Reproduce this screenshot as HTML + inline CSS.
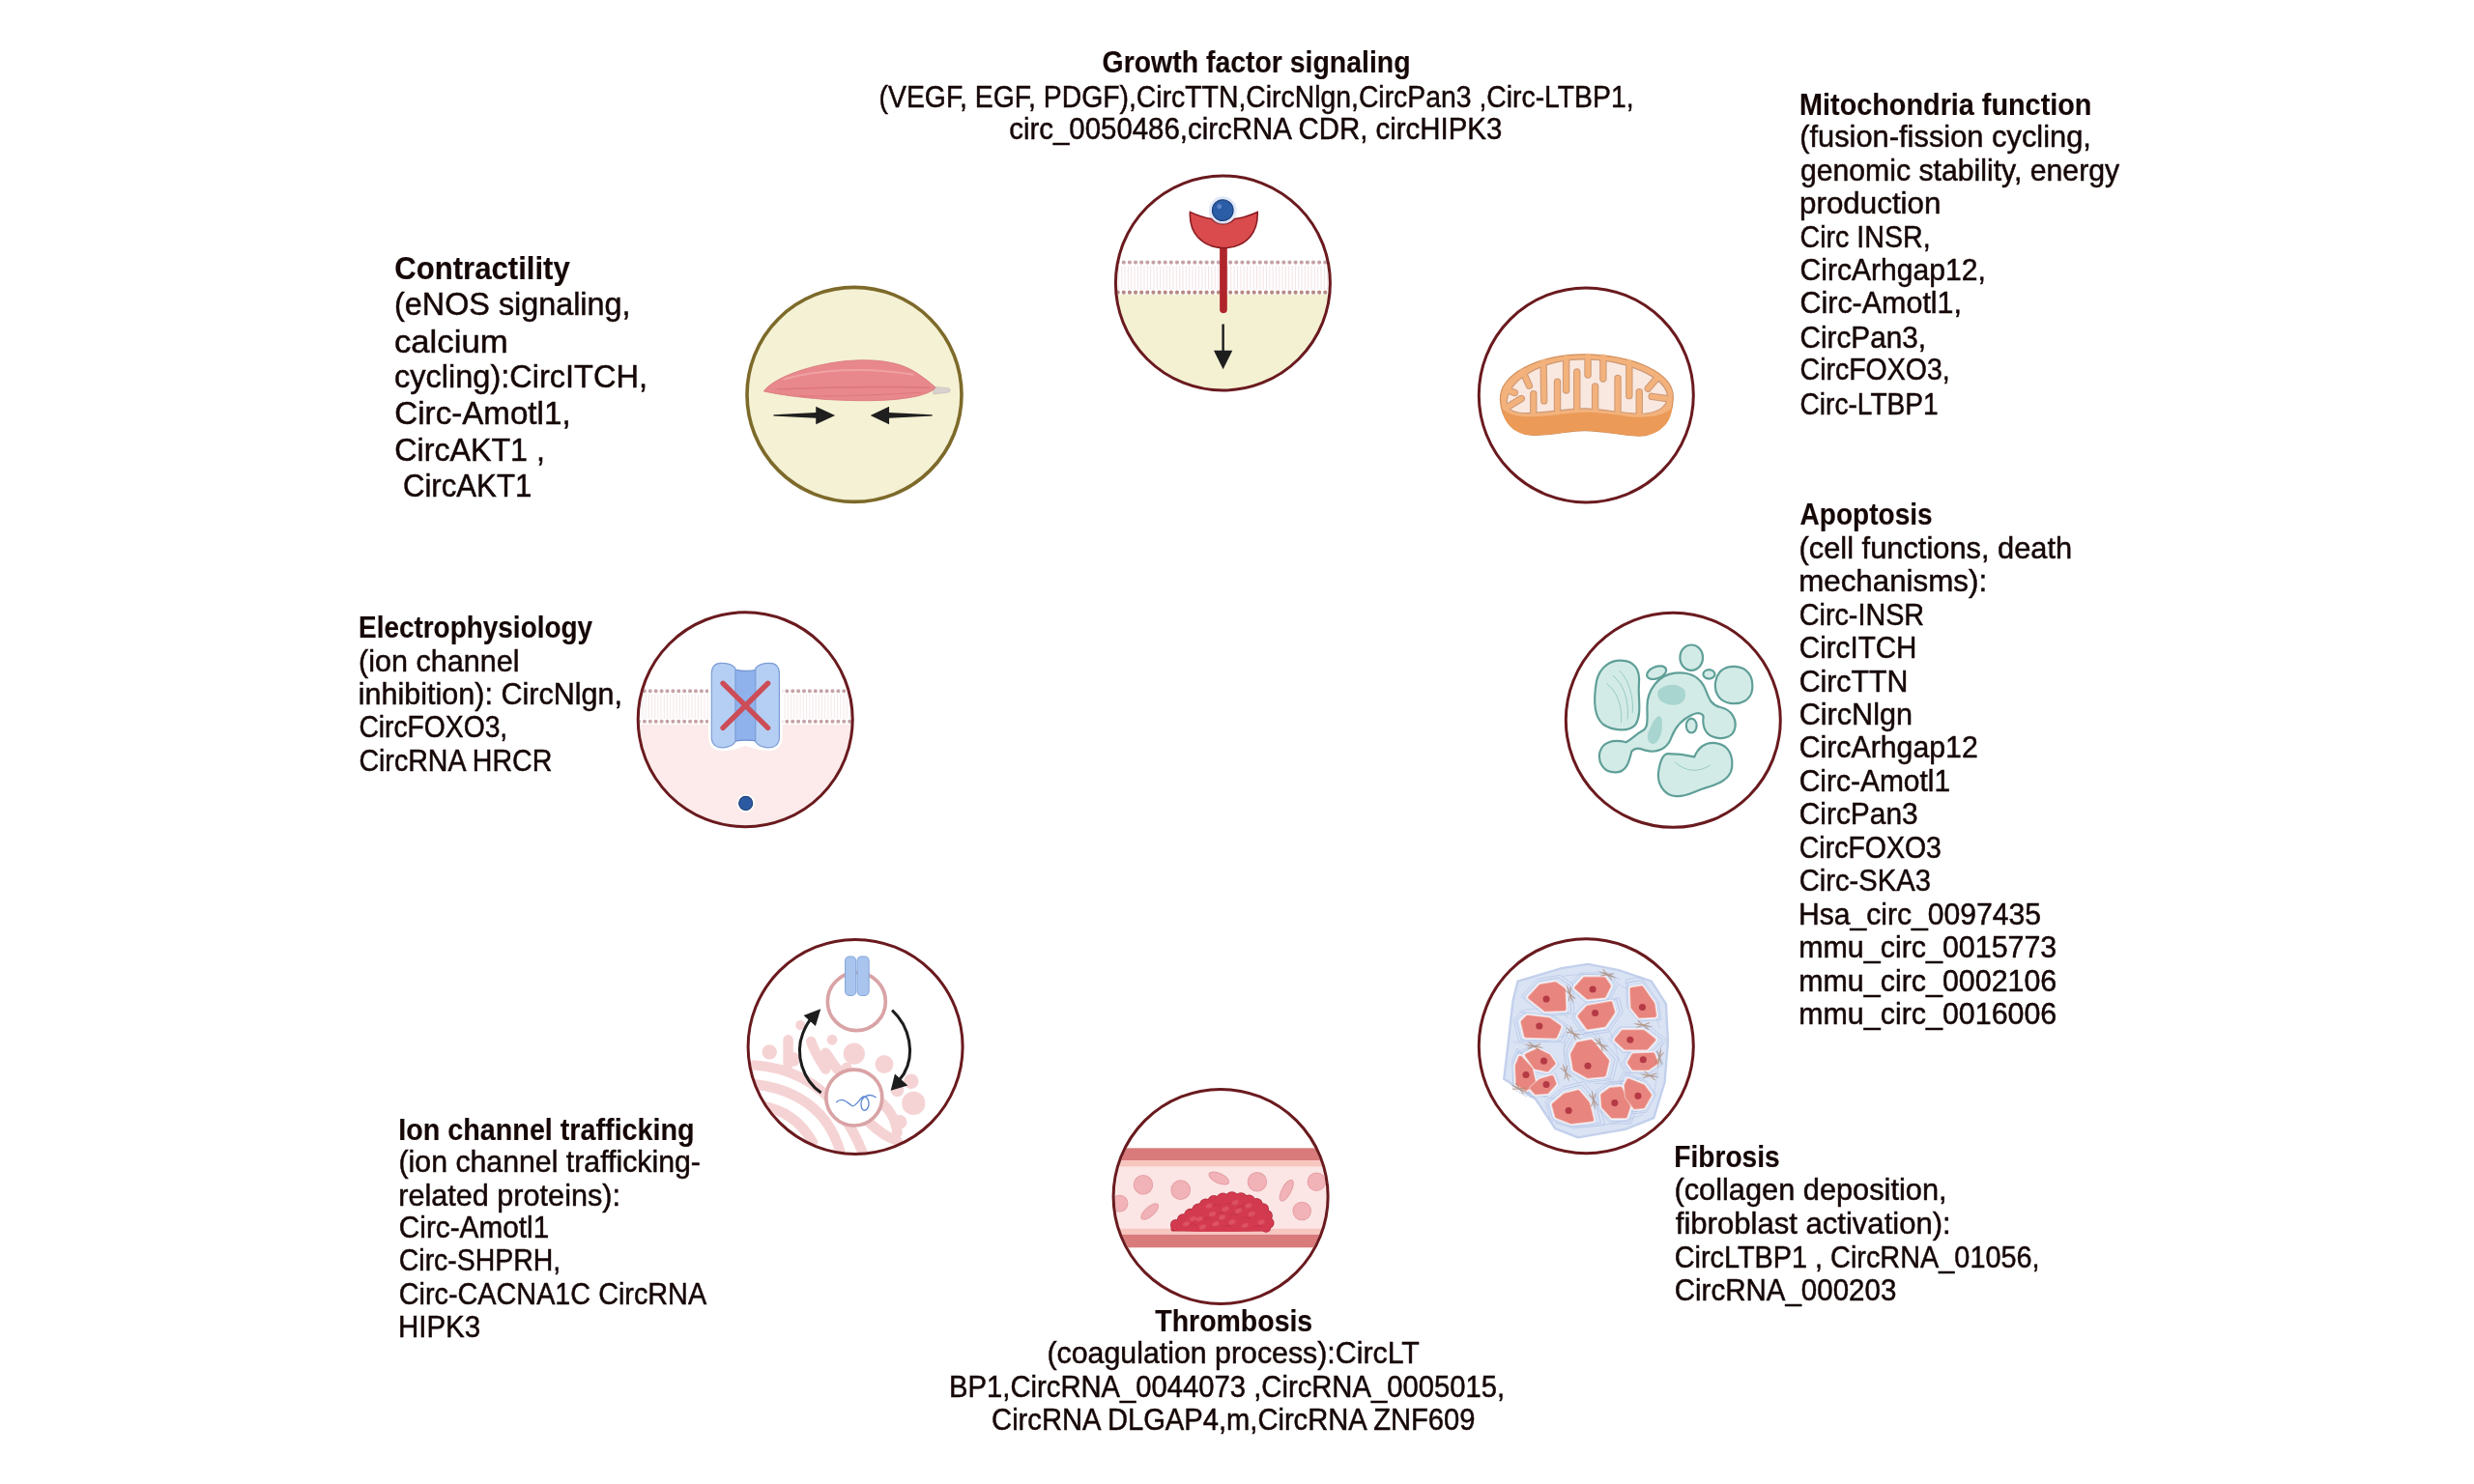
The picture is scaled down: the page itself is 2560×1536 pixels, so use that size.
<!DOCTYPE html>
<html><head><meta charset="utf-8"><style>
html,body{margin:0;padding:0;background:#fff;width:2560px;height:1536px;overflow:hidden}
svg{display:block}
text{font-family:"Liberation Sans",sans-serif;fill:#160707;stroke:#160707;stroke-width:0.5px}
.tx{will-change:transform}
text[font-weight=bold]{stroke-width:0.15px}
</style></head><body>
<svg width="2560" height="1536" viewBox="0 0 2560 1536">
<defs><clipPath id="cg"><circle cx="715.7446153846159" cy="702.0461538461539" r="626.1338461538462"/></clipPath><clipPath id="ce"><circle cx="749.1232000000003" cy="740.2192000000003" r="651.7728"/></clipPath><clipPath id="ci"><circle cx="742.5936000000002" cy="732.5024000000005" r="652.3664000000001"/></clipPath><clipPath id="ct"><circle cx="730.7215999999995" cy="762.1824000000006" r="650.5856"/></clipPath></defs>
<rect width="2560" height="1536" fill="#ffffff"/>
<circle cx="1265.4" cy="293.0" r="111.2" fill="#ffffff"/><g transform="translate(1140,170) scale(0.175202)" clip-path="url(#cg)">
<rect x="0" y="770" width="1484" height="700" fill="#f4f1d3"/>
<g stroke="#f1dfe2" stroke-width="5"><line x1="80" y1="600" x2="80" y2="740"/><line x1="99" y1="600" x2="99" y2="740"/><line x1="118" y1="600" x2="118" y2="740"/><line x1="137" y1="600" x2="137" y2="740"/><line x1="156" y1="600" x2="156" y2="740"/><line x1="175" y1="600" x2="175" y2="740"/><line x1="194" y1="600" x2="194" y2="740"/><line x1="213" y1="600" x2="213" y2="740"/><line x1="232" y1="600" x2="232" y2="740"/><line x1="251" y1="600" x2="251" y2="740"/><line x1="270" y1="600" x2="270" y2="740"/><line x1="289" y1="600" x2="289" y2="740"/><line x1="308" y1="600" x2="308" y2="740"/><line x1="327" y1="600" x2="327" y2="740"/><line x1="346" y1="600" x2="346" y2="740"/><line x1="365" y1="600" x2="365" y2="740"/><line x1="384" y1="600" x2="384" y2="740"/><line x1="403" y1="600" x2="403" y2="740"/><line x1="422" y1="600" x2="422" y2="740"/><line x1="441" y1="600" x2="441" y2="740"/><line x1="460" y1="600" x2="460" y2="740"/><line x1="479" y1="600" x2="479" y2="740"/><line x1="498" y1="600" x2="498" y2="740"/><line x1="517" y1="600" x2="517" y2="740"/><line x1="536" y1="600" x2="536" y2="740"/><line x1="555" y1="600" x2="555" y2="740"/><line x1="574" y1="600" x2="574" y2="740"/><line x1="593" y1="600" x2="593" y2="740"/><line x1="612" y1="600" x2="612" y2="740"/><line x1="631" y1="600" x2="631" y2="740"/><line x1="650" y1="600" x2="650" y2="740"/><line x1="669" y1="600" x2="669" y2="740"/><line x1="688" y1="600" x2="688" y2="740"/><line x1="707" y1="600" x2="707" y2="740"/><line x1="726" y1="600" x2="726" y2="740"/><line x1="745" y1="600" x2="745" y2="740"/><line x1="764" y1="600" x2="764" y2="740"/><line x1="783" y1="600" x2="783" y2="740"/><line x1="802" y1="600" x2="802" y2="740"/><line x1="821" y1="600" x2="821" y2="740"/><line x1="840" y1="600" x2="840" y2="740"/><line x1="859" y1="600" x2="859" y2="740"/><line x1="878" y1="600" x2="878" y2="740"/><line x1="897" y1="600" x2="897" y2="740"/><line x1="916" y1="600" x2="916" y2="740"/><line x1="935" y1="600" x2="935" y2="740"/><line x1="954" y1="600" x2="954" y2="740"/><line x1="973" y1="600" x2="973" y2="740"/><line x1="992" y1="600" x2="992" y2="740"/><line x1="1011" y1="600" x2="1011" y2="740"/><line x1="1030" y1="600" x2="1030" y2="740"/><line x1="1049" y1="600" x2="1049" y2="740"/><line x1="1068" y1="600" x2="1068" y2="740"/><line x1="1087" y1="600" x2="1087" y2="740"/><line x1="1106" y1="600" x2="1106" y2="740"/><line x1="1125" y1="600" x2="1125" y2="740"/><line x1="1144" y1="600" x2="1144" y2="740"/><line x1="1163" y1="600" x2="1163" y2="740"/><line x1="1182" y1="600" x2="1182" y2="740"/><line x1="1201" y1="600" x2="1201" y2="740"/><line x1="1220" y1="600" x2="1220" y2="740"/><line x1="1239" y1="600" x2="1239" y2="740"/><line x1="1258" y1="600" x2="1258" y2="740"/><line x1="1277" y1="600" x2="1277" y2="740"/><line x1="1296" y1="600" x2="1296" y2="740"/><line x1="1315" y1="600" x2="1315" y2="740"/><line x1="1334" y1="600" x2="1334" y2="740"/><line x1="1353" y1="600" x2="1353" y2="740"/><line x1="1372" y1="600" x2="1372" y2="740"/><line x1="1391" y1="600" x2="1391" y2="740"/></g>
<line x1="60" y1="580" x2="1420" y2="580" stroke="#c5a2a8" stroke-width="24" stroke-linecap="round" stroke-dasharray="0 35"/>
<line x1="60" y1="757" x2="1420" y2="757" stroke="#b78a84" stroke-width="24" stroke-linecap="round" stroke-dasharray="0 35"/>
<rect x="697" y="470" width="44" height="410" rx="22" fill="#b0252c"/>
<path d="M522,282 C560,300 610,318 650,322 C680,360 750,365 785,322 C830,318 880,300 920,282 C925,400 860,490 722,495 C585,490 515,400 522,282 Z" fill="#d94b4d" stroke="#8a1b21" stroke-width="9"/>
<circle cx="715" cy="272" r="82" fill="#c9d6f2" opacity="0.55"/>
<circle cx="715" cy="272" r="62" fill="#2b5da6" stroke="#1c3f7c" stroke-width="6"/>
<circle cx="695" cy="250" r="14" fill="#6f95d6" opacity="0.7"/>
<line x1="717" y1="945" x2="717" y2="1120" stroke="#1e1e1e" stroke-width="14"/>
<path d="M662,1100 L772,1100 L717,1212 Z" fill="#1e1e1e"/>
</g><circle cx="1265.4" cy="293.0" r="111.0" fill="none" stroke="#6a1a1e" stroke-width="3.0"/><circle cx="884.0" cy="408.4" r="111.0" fill="#f4f1d4" stroke="#7d6a2a" stroke-width="3.6"/><g transform="translate(760,285) scale(0.168464)">
<path d="M1222,684 L1318,694 Q1332,706 1318,718 L1222,730 Z" fill="#d8d2cf" stroke="#c4bcb8" stroke-width="4"/>
<path d="M180,712 C230,640 420,560 650,530 C830,510 1000,520 1120,600 C1180,640 1215,670 1235,690 C1200,735 1050,770 800,770 C560,770 330,745 180,712 Z" fill="#e8888c" stroke="#d9777c" stroke-width="5"/>
<path d="M300,640 C500,580 800,560 1100,610" stroke="#f0a7aa" stroke-width="12" fill="none" opacity="0.8"/>
<path d="M260,700 C500,690 900,680 1200,690" stroke="#d66a70" stroke-width="8" fill="none" opacity="0.6"/>
<path d="M400,740 C600,745 900,735 1150,720" stroke="#d66a70" stroke-width="6" fill="none" opacity="0.5"/>
<path d="M240,856 L500,843 L500,806 L618,860 L500,916 L500,877 L240,864 Z" fill="#1f1f1f"/>
<path d="M1215,856 L950,843 L950,806 L835,860 L950,916 L950,877 L1215,864 Z" fill="#1f1f1f"/>
</g><circle cx="1641.3" cy="408.9" r="111.0" fill="none" stroke="#6a1a1e" stroke-width="3.0"/><g transform="translate(1515,285) scale(0.168464)">
<path d="M222,766 C215,610 450,486 739,486 C1040,488 1290,600 1284,752 C1280,900 1180,990 1067,986 C950,982 850,953 739,953 C640,953 540,985 412,981 C300,975 228,880 222,766 Z" fill="#f3b27c" stroke="#d08f5c" stroke-width="7"/>
<path d="M236,820 C300,880 420,872 560,858 C650,848 700,842 739,842 C800,842 880,850 1000,866 C1120,880 1230,866 1278,812 C1270,925 1180,990 1067,986 C950,982 850,953 739,953 C640,953 540,985 412,981 C300,975 240,900 236,820 Z" fill="#eb9a57"/>
<path d="M262,780 C270,640 480,516 739,516 C1000,516 1245,630 1249,743 C1250,800 1200,840 1114,850 C1000,855 850,818 739,818 C630,818 480,850 365,846 C300,842 262,820 262,780 Z" fill="#f9e8df" stroke="#cf9a78" stroke-width="7"/>
<clipPath id="mclip"><path d="M262,780 C270,640 480,516 739,516 C1000,516 1245,630 1249,743 C1250,800 1200,840 1114,850 C1000,855 850,818 739,818 C630,818 480,850 365,846 C300,842 262,820 262,780 Z"/></clipPath>
<g clip-path="url(#mclip)" fill="none" stroke="#cf9a78" stroke-width="44" stroke-linecap="round"><path d="M487,530 L491,771"/><path d="M627,505 L627,706"/><path d="M760,495 L760,612"/><path d="M854,500 L854,635"/><path d="M1014,530 L1014,740"/><path d="M426,850 L426,728"/><path d="M573,842 L573,654"/><path d="M693,826 L693,593"/><path d="M805,826 L805,682"/><path d="M944,836 L944,632"/><path d="M1076,850 L1076,716"/><path d="M360,590 L400,678"/><path d="M255,700 L311,721"/><path d="M262,812 L352,757"/><path d="M1190,625 L1129,696"/><path d="M1262,760 L1153,744"/></g>
<g fill="none" stroke="#f3b27c" stroke-width="31" stroke-linecap="round"><path d="M487,530 L491,771"/><path d="M627,505 L627,706"/><path d="M760,495 L760,612"/><path d="M854,500 L854,635"/><path d="M1014,530 L1014,740"/><path d="M426,850 L426,728"/><path d="M573,842 L573,654"/><path d="M693,826 L693,593"/><path d="M805,826 L805,682"/><path d="M944,836 L944,632"/><path d="M1076,850 L1076,716"/><path d="M360,590 L400,678"/><path d="M255,700 L311,721"/><path d="M262,812 L352,757"/><path d="M1190,625 L1129,696"/><path d="M1262,760 L1153,744"/></g>
</g><circle cx="771.2" cy="744.7" r="111.3" fill="#ffffff"/><g transform="translate(645,620) scale(0.168464)" clip-path="url(#ce)">
<rect x="0" y="770" width="1484" height="700" fill="#fcebea"/>
<g stroke="#f2e2e3" stroke-width="5"><line x1="80" y1="585" x2="80" y2="735"/><line x1="99" y1="585" x2="99" y2="735"/><line x1="118" y1="585" x2="118" y2="735"/><line x1="137" y1="585" x2="137" y2="735"/><line x1="156" y1="585" x2="156" y2="735"/><line x1="175" y1="585" x2="175" y2="735"/><line x1="194" y1="585" x2="194" y2="735"/><line x1="213" y1="585" x2="213" y2="735"/><line x1="232" y1="585" x2="232" y2="735"/><line x1="251" y1="585" x2="251" y2="735"/><line x1="270" y1="585" x2="270" y2="735"/><line x1="289" y1="585" x2="289" y2="735"/><line x1="308" y1="585" x2="308" y2="735"/><line x1="327" y1="585" x2="327" y2="735"/><line x1="346" y1="585" x2="346" y2="735"/><line x1="365" y1="585" x2="365" y2="735"/><line x1="384" y1="585" x2="384" y2="735"/><line x1="403" y1="585" x2="403" y2="735"/><line x1="422" y1="585" x2="422" y2="735"/><line x1="441" y1="585" x2="441" y2="735"/><line x1="460" y1="585" x2="460" y2="735"/><line x1="479" y1="585" x2="479" y2="735"/><line x1="498" y1="585" x2="498" y2="735"/><line x1="517" y1="585" x2="517" y2="735"/><line x1="536" y1="585" x2="536" y2="735"/><line x1="555" y1="585" x2="555" y2="735"/><line x1="574" y1="585" x2="574" y2="735"/><line x1="593" y1="585" x2="593" y2="735"/><line x1="612" y1="585" x2="612" y2="735"/><line x1="631" y1="585" x2="631" y2="735"/><line x1="650" y1="585" x2="650" y2="735"/><line x1="669" y1="585" x2="669" y2="735"/><line x1="688" y1="585" x2="688" y2="735"/><line x1="707" y1="585" x2="707" y2="735"/><line x1="726" y1="585" x2="726" y2="735"/><line x1="745" y1="585" x2="745" y2="735"/><line x1="764" y1="585" x2="764" y2="735"/><line x1="783" y1="585" x2="783" y2="735"/><line x1="802" y1="585" x2="802" y2="735"/><line x1="821" y1="585" x2="821" y2="735"/><line x1="840" y1="585" x2="840" y2="735"/><line x1="859" y1="585" x2="859" y2="735"/><line x1="878" y1="585" x2="878" y2="735"/><line x1="897" y1="585" x2="897" y2="735"/><line x1="916" y1="585" x2="916" y2="735"/><line x1="935" y1="585" x2="935" y2="735"/><line x1="954" y1="585" x2="954" y2="735"/><line x1="973" y1="585" x2="973" y2="735"/><line x1="992" y1="585" x2="992" y2="735"/><line x1="1011" y1="585" x2="1011" y2="735"/><line x1="1030" y1="585" x2="1030" y2="735"/><line x1="1049" y1="585" x2="1049" y2="735"/><line x1="1068" y1="585" x2="1068" y2="735"/><line x1="1087" y1="585" x2="1087" y2="735"/><line x1="1106" y1="585" x2="1106" y2="735"/><line x1="1125" y1="585" x2="1125" y2="735"/><line x1="1144" y1="585" x2="1144" y2="735"/><line x1="1163" y1="585" x2="1163" y2="735"/><line x1="1182" y1="585" x2="1182" y2="735"/><line x1="1201" y1="585" x2="1201" y2="735"/><line x1="1220" y1="585" x2="1220" y2="735"/><line x1="1239" y1="585" x2="1239" y2="735"/><line x1="1258" y1="585" x2="1258" y2="735"/><line x1="1277" y1="585" x2="1277" y2="735"/><line x1="1296" y1="585" x2="1296" y2="735"/><line x1="1315" y1="585" x2="1315" y2="735"/><line x1="1334" y1="585" x2="1334" y2="735"/><line x1="1353" y1="585" x2="1353" y2="735"/><line x1="1372" y1="585" x2="1372" y2="735"/><line x1="1391" y1="585" x2="1391" y2="735"/><line x1="1410" y1="585" x2="1410" y2="735"/></g>
<line x1="60" y1="565" x2="1430" y2="565" stroke="#c6a3a6" stroke-width="24" stroke-linecap="round" stroke-dasharray="0 35"/>
<line x1="60" y1="752" x2="1430" y2="752" stroke="#c6a3a6" stroke-width="24" stroke-linecap="round" stroke-dasharray="0 35"/>
<path d="M600,392 C555,392 540,420 540,462 L540,848 C540,895 568,918 615,915 C700,912 750,880 750,880 C750,880 800,912 885,915 C932,918 960,895 960,848 L960,462 C960,420 945,392 900,392 C840,392 790,425 750,425 C710,425 660,392 600,392 Z" fill="#ffffff" stroke="#ffffff" stroke-width="36"/>
<path d="M680,432 Q750,452 830,432 L830,875 Q750,860 680,875 Z" fill="#8fb1ec" stroke="#6f90cf" stroke-width="7"/>
<path d="M600,394 C556,394 542,420 542,462 L542,848 C542,893 568,916 615,913 C650,910 675,895 688,878 L688,425 C675,408 645,394 600,394 Z" fill="#b5cff4" stroke="#7c9dd6" stroke-width="7"/>
<path d="M900,394 C944,394 958,420 958,462 L958,848 C958,893 932,916 885,913 C850,910 825,895 812,878 L812,425 C825,408 855,394 900,394 Z" fill="#b5cff4" stroke="#7c9dd6" stroke-width="7"/>
<g stroke="#cc4d57" stroke-width="32" stroke-linecap="round"><line x1="612" y1="518" x2="888" y2="792"/><line x1="888" y1="518" x2="612" y2="792"/></g>
<circle cx="752" cy="1255" r="56" fill="#ffffff"/>
<circle cx="752" cy="1255" r="42" fill="#2b5aa3" stroke="#1b3b72" stroke-width="6"/>
</g><circle cx="771.2" cy="744.7" r="111.0" fill="none" stroke="#6a1a1e" stroke-width="3.0"/><circle cx="1731.3" cy="745.3" r="111.0" fill="none" stroke="#6a1a1e" stroke-width="3.0"/><g transform="translate(1605,620) scale(0.168464)">
<g fill="#d3ebe7" stroke="#5f9f98" stroke-width="13">
<path d="M430,378 C510,380 548,430 540,520 C532,600 560,700 520,770 C480,820 380,810 320,770 C260,720 262,600 280,500 C300,420 360,376 430,378 Z"/>
<ellipse cx="648" cy="452" rx="62" ry="36" transform="rotate(-22 648 452)"/>
<ellipse cx="862" cy="360" rx="70" ry="78"/>
<ellipse cx="970" cy="462" rx="36" ry="28"/>
<path d="M1130,415 C1210,420 1245,480 1235,560 C1225,620 1170,650 1100,640 C1030,630 1000,570 1010,510 C1020,450 1060,412 1130,415 Z"/>
<path d="M760,455 C850,445 920,480 950,560 C970,610 980,650 1040,665 C1110,680 1140,740 1130,790 C1120,850 1050,870 990,845 C940,825 930,770 935,730 C940,700 900,695 870,710 C800,740 760,790 735,860 C710,920 650,950 580,930 C540,915 520,910 495,935 C480,990 470,1060 400,1065 C320,1070 285,1000 300,940 C315,880 380,860 460,880 C500,860 520,830 560,810 C600,790 590,740 590,660 C590,560 660,465 760,455 Z"/>
<ellipse cx="862" cy="778" rx="32" ry="44"/>
<path d="M720,950 C800,950 840,960 880,970 C910,900 960,880 1010,885 C1090,895 1120,960 1110,1040 C1100,1110 1020,1140 950,1160 C880,1180 840,1215 770,1212 C690,1208 650,1130 660,1060 C670,990 690,950 720,950 Z"/>
</g>
<g fill="#a8d5cf" stroke="none">
<path d="M660,560 C700,520 780,510 820,560 C840,620 800,660 730,650 C670,640 640,600 660,560 Z"/>
<path d="M610,790 C640,720 670,700 680,740 C690,800 670,880 630,890 C590,890 580,840 610,790 Z"/>
</g>
<g fill="none" stroke="#8dc3bc" stroke-width="5">
<path d="M340,520 C400,560 440,650 430,760"/>
<path d="M380,470 C440,520 480,610 470,740"/>
<path d="M420,440 C470,490 510,590 500,700"/>
<path d="M760,1000 C820,1060 900,1070 980,1020"/>
</g>
</g><circle cx="885.1" cy="1083.4" r="111.4" fill="#ffffff"/><g transform="translate(760,960) scale(0.168464)" clip-path="url(#ci)">
<g fill="none" stroke="#f5d3d4" stroke-width="62" stroke-linecap="round">
<path d="M120,845 C330,860 520,950 640,1120 C700,1200 760,1300 800,1420"/>
<path d="M130,965 C320,985 470,1070 560,1190 C610,1260 640,1330 660,1420"/>
<path d="M160,1095 C320,1120 420,1210 480,1320"/>
<path d="M230,1235 C300,1265 350,1320 380,1390"/>
<path d="M330,690 L330,840"/>
<path d="M470,700 C490,760 520,810 560,870"/>
<path d="M560,770 C590,810 610,850 650,890"/>
<path d="M880,1060 C940,1100 990,1170 1000,1260"/>
<path d="M820,1190 C880,1250 940,1290 1000,1310"/>
</g>
<g fill="#f5d3d4">
<circle cx="215" cy="765" r="46"/><circle cx="405" cy="600" r="30"/><circle cx="600" cy="690" r="32"/>
<circle cx="735" cy="775" r="66"/><circle cx="920" cy="840" r="56"/><circle cx="1085" cy="945" r="46"/>
<circle cx="1100" cy="1080" r="72"/><circle cx="1015" cy="1195" r="44"/><circle cx="690" cy="860" r="32"/>
<circle cx="360" cy="810" r="44"/><circle cx="1000" cy="1000" r="40"/>
</g>
<circle cx="750" cy="455" r="178" fill="#ffffff" stroke="#d9a3a6" stroke-width="22"/>
<circle cx="735" cy="1045" r="172" fill="#ffffff" stroke="#d9a3a6" stroke-width="22"/>
<rect x="680" y="178" width="66" height="240" rx="26" fill="#a9c5ee" stroke="#86a6da" stroke-width="6"/>
<rect x="754" y="178" width="72" height="240" rx="26" fill="#a9c5ee" stroke="#86a6da" stroke-width="6"/>
<path d="M625,1075 C660,1040 690,1070 720,1095 C740,1110 770,1050 790,1040 C820,1030 840,1090 810,1120 C780,1140 760,1070 800,1040 C830,1020 850,1030 870,1045" fill="none" stroke="#5d88d2" stroke-width="8"/>
<g fill="none" stroke="#1d1d1d" stroke-width="18" stroke-linecap="butt">
<path d="M532,1015 C420,940 370,780 420,650 C440,600 460,570 480,550"/>
<path d="M968,508 C1080,610 1110,780 1040,900 C1020,930 1000,950 990,960"/>
</g>
<path d="M425,540 L530,500 L498,605 Z" fill="#1d1d1d"/>
<path d="M1065,970 L960,1002 L985,900 Z" fill="#1d1d1d"/>
</g><circle cx="885.1" cy="1083.4" r="111.0" fill="none" stroke="#6a1a1e" stroke-width="3.0"/><circle cx="1641.3" cy="1082.7" r="111.0" fill="none" stroke="#6a1a1e" stroke-width="3.0"/><g transform="translate(1515,960) scale(0.168464)"><path d="M330,330 L600,250 L760,225 L950,262 L1150,330 L1240,470 L1252,700 L1232,950 L1165,1170 L990,1240 L700,1290 L560,1235 L440,1055 L245,930 L272,700 L300,450 Z" fill="#dae3f4" stroke="#c3d0ec" stroke-width="14" stroke-linejoin="round"/>
<g fill="none" stroke="#b9c8e6" stroke-width="5" opacity="0.8">
<path d="M340,520 C400,480 600,500 640,560"/><path d="M600,300 C700,280 900,290 960,320"/><path d="M950,350 C1050,400 1180,500 1200,620"/>
<path d="M300,700 C380,730 560,700 640,650"/><path d="M620,700 C600,800 620,900 700,950"/><path d="M880,620 C950,700 930,850 1000,900"/>
<path d="M300,900 C380,1000 470,1050 560,1050"/><path d="M800,960 C900,960 1100,930 1200,900"/><path d="M560,1200 C700,1250 900,1220 1100,1150"/>
<path d="M1220,700 C1180,800 1200,950 1150,1050"/>
</g>

<path d="M350,424 L451,316 L590,293 L668,347 L676,533 L497,541 Z" fill="none" stroke="#b3c4e6" stroke-width="5" stroke-linejoin="round" opacity="0.8"/><path d="M367,426 L457,330 L581,309 L650,357 L657,523 L498,530 Z" fill="none" stroke="#a9bde3" stroke-width="5" stroke-linejoin="round" opacity="0.8"/><path d="M383,428 L462,342 L572,324 L633,367 L639,513 L499,519 Z" fill="none" stroke="#c2cfeb" stroke-width="4" stroke-linejoin="round" opacity="0.8"/><path d="M635,364 L712,279 L898,279 L945,349 L898,442 L744,458 Z" fill="none" stroke="#b3c4e6" stroke-width="5" stroke-linejoin="round" opacity="0.8"/><path d="M652,366 L721,290 L887,290 L928,352 L887,435 L749,449 Z" fill="none" stroke="#a9bde3" stroke-width="5" stroke-linejoin="round" opacity="0.8"/><path d="M668,368 L729,301 L875,301 L912,356 L875,429 L753,441 Z" fill="none" stroke="#c2cfeb" stroke-width="4" stroke-linejoin="round" opacity="0.8"/><path d="M994,320 L1087,304 L1196,459 L1211,568 L1072,575 L1002,490 Z" fill="none" stroke="#b3c4e6" stroke-width="5" stroke-linejoin="round" opacity="0.8"/><path d="M1005,338 L1088,324 L1185,462 L1198,559 L1074,566 L1012,490 Z" fill="none" stroke="#a9bde3" stroke-width="5" stroke-linejoin="round" opacity="0.8"/><path d="M1016,356 L1089,344 L1174,466 L1186,551 L1077,557 L1022,490 Z" fill="none" stroke="#c2cfeb" stroke-width="4" stroke-linejoin="round" opacity="0.8"/><path d="M658,556 L735,471 L952,432 L976,517 L890,641 L735,664 Z" fill="none" stroke="#b3c4e6" stroke-width="5" stroke-linejoin="round" opacity="0.8"/><path d="M674,553 L743,477 L936,442 L957,518 L881,628 L743,649 Z" fill="none" stroke="#a9bde3" stroke-width="5" stroke-linejoin="round" opacity="0.8"/><path d="M689,549 L750,482 L921,452 L939,519 L872,616 L750,635 Z" fill="none" stroke="#c2cfeb" stroke-width="4" stroke-linejoin="round" opacity="0.8"/><path d="M304,566 L350,520 L552,543 L653,613 L614,706 L335,698 Z" fill="none" stroke="#b3c4e6" stroke-width="5" stroke-linejoin="round" opacity="0.8"/><path d="M321,570 L363,529 L542,550 L632,612 L597,695 L349,688 Z" fill="none" stroke="#a9bde3" stroke-width="5" stroke-linejoin="round" opacity="0.8"/><path d="M338,574 L374,538 L533,556 L612,611 L582,684 L362,678 Z" fill="none" stroke="#c2cfeb" stroke-width="4" stroke-linejoin="round" opacity="0.8"/><path d="M888,690 L950,612 L1144,612 L1245,690 L1175,768 L974,768 Z" fill="none" stroke="#b3c4e6" stroke-width="5" stroke-linejoin="round" opacity="0.8"/><path d="M903,690 L958,621 L1130,621 L1220,690 L1158,759 L979,759 Z" fill="none" stroke="#a9bde3" stroke-width="5" stroke-linejoin="round" opacity="0.8"/><path d="M916,690 L965,629 L1118,629 L1197,690 L1142,751 L983,751 Z" fill="none" stroke="#c2cfeb" stroke-width="4" stroke-linejoin="round" opacity="0.8"/><path d="M613,742 L667,641 L791,618 L946,804 L915,935 L760,951 L636,881 Z" fill="none" stroke="#b3c4e6" stroke-width="5" stroke-linejoin="round" opacity="0.8"/><path d="M629,753 L677,664 L788,643 L926,809 L898,926 L760,940 L650,878 Z" fill="none" stroke="#a9bde3" stroke-width="5" stroke-linejoin="round" opacity="0.8"/><path d="M644,765 L687,685 L784,667 L906,813 L882,917 L760,929 L662,874 Z" fill="none" stroke="#c2cfeb" stroke-width="4" stroke-linejoin="round" opacity="0.8"/><path d="M327,766 L428,719 L536,774 L583,843 L521,905 L412,882 Z" fill="none" stroke="#b3c4e6" stroke-width="5" stroke-linejoin="round" opacity="0.8"/><path d="M345,772 L435,730 L531,779 L573,841 L518,896 L421,875 Z" fill="none" stroke="#a9bde3" stroke-width="5" stroke-linejoin="round" opacity="0.8"/><path d="M362,777 L441,741 L527,783 L563,838 L514,887 L429,869 Z" fill="none" stroke="#c2cfeb" stroke-width="4" stroke-linejoin="round" opacity="0.8"/><path d="M295,820 L326,742 L426,851 L458,990 L380,1037 L302,990 Z" fill="none" stroke="#b3c4e6" stroke-width="5" stroke-linejoin="round" opacity="0.8"/><path d="M304,829 L332,760 L421,857 L449,981 L380,1022 L311,981 Z" fill="none" stroke="#a9bde3" stroke-width="5" stroke-linejoin="round" opacity="0.8"/><path d="M313,838 L337,777 L417,862 L441,972 L380,1009 L319,972 Z" fill="none" stroke="#c2cfeb" stroke-width="4" stroke-linejoin="round" opacity="0.8"/><path d="M366,996 L451,926 L559,895 L582,957 L513,1035 L404,1042 Z" fill="none" stroke="#b3c4e6" stroke-width="5" stroke-linejoin="round" opacity="0.8"/><path d="M381,993 L457,930 L553,903 L574,958 L512,1027 L415,1034 Z" fill="none" stroke="#a9bde3" stroke-width="5" stroke-linejoin="round" opacity="0.8"/><path d="M395,989 L462,934 L548,910 L566,959 L511,1020 L426,1026 Z" fill="none" stroke="#c2cfeb" stroke-width="4" stroke-linejoin="round" opacity="0.8"/><path d="M968,840 L1007,770 L1193,762 L1224,840 L1146,894 L1007,894 Z" fill="none" stroke="#b3c4e6" stroke-width="5" stroke-linejoin="round" opacity="0.8"/><path d="M983,837 L1017,775 L1183,768 L1210,837 L1141,885 L1017,885 Z" fill="none" stroke="#a9bde3" stroke-width="5" stroke-linejoin="round" opacity="0.8"/><path d="M996,834 L1027,779 L1173,773 L1198,834 L1137,877 L1027,877 Z" fill="none" stroke="#c2cfeb" stroke-width="4" stroke-linejoin="round" opacity="0.8"/><path d="M499,1071 L608,978 L732,947 L825,1055 L864,1210 L670,1234 L530,1179 Z" fill="none" stroke="#b3c4e6" stroke-width="5" stroke-linejoin="round" opacity="0.8"/><path d="M515,1077 L612,994 L722,966 L805,1063 L839,1201 L667,1222 L543,1173 Z" fill="none" stroke="#a9bde3" stroke-width="5" stroke-linejoin="round" opacity="0.8"/><path d="M530,1082 L615,1009 L713,985 L786,1070 L816,1192 L664,1210 L554,1168 Z" fill="none" stroke="#c2cfeb" stroke-width="4" stroke-linejoin="round" opacity="0.8"/><path d="M809,1004 L886,949 L979,942 L1057,1112 L1026,1205 L902,1205 L816,1112 Z" fill="none" stroke="#b3c4e6" stroke-width="5" stroke-linejoin="round" opacity="0.8"/><path d="M822,1012 L890,963 L973,957 L1042,1108 L1015,1191 L904,1191 L828,1108 Z" fill="none" stroke="#a9bde3" stroke-width="5" stroke-linejoin="round" opacity="0.8"/><path d="M834,1019 L894,977 L968,971 L1029,1105 L1004,1178 L907,1178 L840,1105 Z" fill="none" stroke="#c2cfeb" stroke-width="4" stroke-linejoin="round" opacity="0.8"/><path d="M955,934 L978,888 L1118,942 L1180,1027 L1118,1136 L1040,1144 L963,1043 Z" fill="none" stroke="#b3c4e6" stroke-width="5" stroke-linejoin="round" opacity="0.8"/><path d="M967,945 L988,904 L1112,952 L1167,1028 L1112,1125 L1043,1132 L974,1042 Z" fill="none" stroke="#a9bde3" stroke-width="5" stroke-linejoin="round" opacity="0.8"/><path d="M979,956 L997,919 L1107,962 L1156,1029 L1107,1114 L1046,1120 L985,1041 Z" fill="none" stroke="#c2cfeb" stroke-width="4" stroke-linejoin="round" opacity="0.8"/><path d="M405,430 L470,360 L560,345 L610,380 L615,500 L500,505 Z" fill="#f2f4fb" stroke="#f2f4fb" stroke-width="44" stroke-linejoin="round"/><path d="M690,370 L740,315 L860,315 L890,360 L860,420 L760,430 Z" fill="#f2f4fb" stroke="#f2f4fb" stroke-width="44" stroke-linejoin="round"/><path d="M1030,380 L1090,370 L1160,470 L1170,540 L1080,545 L1035,490 Z" fill="#f2f4fb" stroke="#f2f4fb" stroke-width="44" stroke-linejoin="round"/><path d="M710,545 L760,490 L900,465 L915,520 L860,600 L760,615 Z" fill="#f2f4fb" stroke="#f2f4fb" stroke-width="44" stroke-linejoin="round"/><path d="M360,580 L390,550 L520,565 L585,610 L560,670 L380,665 Z" fill="#f2f4fb" stroke="#f2f4fb" stroke-width="44" stroke-linejoin="round"/><path d="M935,690 L975,640 L1100,640 L1165,690 L1120,740 L990,740 Z" fill="#f2f4fb" stroke="#f2f4fb" stroke-width="44" stroke-linejoin="round"/><path d="M665,780 L700,715 L780,700 L880,820 L860,905 L760,915 L680,870 Z" fill="#f2f4fb" stroke="#f2f4fb" stroke-width="44" stroke-linejoin="round"/><path d="M385,785 L450,755 L520,790 L550,835 L510,875 L440,860 Z" fill="#f2f4fb" stroke="#f2f4fb" stroke-width="44" stroke-linejoin="round"/><path d="M325,850 L345,800 L410,870 L430,960 L380,990 L330,960 Z" fill="#f2f4fb" stroke="#f2f4fb" stroke-width="44" stroke-linejoin="round"/><path d="M415,985 L470,940 L540,920 L555,960 L510,1010 L440,1015 Z" fill="#f2f4fb" stroke="#f2f4fb" stroke-width="44" stroke-linejoin="round"/><path d="M1015,830 L1040,785 L1160,780 L1180,830 L1130,865 L1040,865 Z" fill="#f2f4fb" stroke="#f2f4fb" stroke-width="44" stroke-linejoin="round"/><path d="M550,1090 L620,1030 L700,1010 L760,1080 L785,1180 L660,1195 L570,1160 Z" fill="#f2f4fb" stroke="#f2f4fb" stroke-width="44" stroke-linejoin="round"/><path d="M850,1030 L900,995 L960,990 L1010,1100 L990,1160 L910,1160 L855,1100 Z" fill="#f2f4fb" stroke="#f2f4fb" stroke-width="44" stroke-linejoin="round"/><path d="M995,970 L1010,940 L1100,975 L1140,1030 L1100,1100 L1050,1105 L1000,1040 Z" fill="#f2f4fb" stroke="#f2f4fb" stroke-width="44" stroke-linejoin="round"/><path d="M405,430 L470,360 L560,345 L610,380 L615,500 L500,505 Z" fill="#f2c6c0" stroke="#f2c6c0" stroke-width="30" stroke-linejoin="round"/><path d="M405,430 L470,360 L560,345 L610,380 L615,500 L500,505 Z" fill="#e8857f" stroke="#e8857f" stroke-width="20" stroke-linejoin="round"/><circle cx="505" cy="440" r="21" fill="#b53a45"/><path d="M690,370 L740,315 L860,315 L890,360 L860,420 L760,430 Z" fill="#f2c6c0" stroke="#f2c6c0" stroke-width="30" stroke-linejoin="round"/><path d="M690,370 L740,315 L860,315 L890,360 L860,420 L760,430 Z" fill="#e8857f" stroke="#e8857f" stroke-width="20" stroke-linejoin="round"/><circle cx="790" cy="380" r="21" fill="#b53a45"/><path d="M1030,380 L1090,370 L1160,470 L1170,540 L1080,545 L1035,490 Z" fill="#f2c6c0" stroke="#f2c6c0" stroke-width="30" stroke-linejoin="round"/><path d="M1030,380 L1090,370 L1160,470 L1170,540 L1080,545 L1035,490 Z" fill="#e8857f" stroke="#e8857f" stroke-width="20" stroke-linejoin="round"/><circle cx="1095" cy="490" r="21" fill="#b53a45"/><path d="M710,545 L760,490 L900,465 L915,520 L860,600 L760,615 Z" fill="#f2c6c0" stroke="#f2c6c0" stroke-width="30" stroke-linejoin="round"/><path d="M710,545 L760,490 L900,465 L915,520 L860,600 L760,615 Z" fill="#e8857f" stroke="#e8857f" stroke-width="20" stroke-linejoin="round"/><circle cx="805" cy="525" r="21" fill="#b53a45"/><path d="M360,580 L390,550 L520,565 L585,610 L560,670 L380,665 Z" fill="#f2c6c0" stroke="#f2c6c0" stroke-width="30" stroke-linejoin="round"/><path d="M360,580 L390,550 L520,565 L585,610 L560,670 L380,665 Z" fill="#e8857f" stroke="#e8857f" stroke-width="20" stroke-linejoin="round"/><circle cx="462" cy="605" r="21" fill="#b53a45"/><path d="M935,690 L975,640 L1100,640 L1165,690 L1120,740 L990,740 Z" fill="#f2c6c0" stroke="#f2c6c0" stroke-width="30" stroke-linejoin="round"/><path d="M935,690 L975,640 L1100,640 L1165,690 L1120,740 L990,740 Z" fill="#e8857f" stroke="#e8857f" stroke-width="20" stroke-linejoin="round"/><circle cx="1020" cy="690" r="21" fill="#b53a45"/><path d="M665,780 L700,715 L780,700 L880,820 L860,905 L760,915 L680,870 Z" fill="#f2c6c0" stroke="#f2c6c0" stroke-width="30" stroke-linejoin="round"/><path d="M665,780 L700,715 L780,700 L880,820 L860,905 L760,915 L680,870 Z" fill="#e8857f" stroke="#e8857f" stroke-width="20" stroke-linejoin="round"/><circle cx="760" cy="850" r="21" fill="#b53a45"/><path d="M385,785 L450,755 L520,790 L550,835 L510,875 L440,860 Z" fill="#f2c6c0" stroke="#f2c6c0" stroke-width="30" stroke-linejoin="round"/><path d="M385,785 L450,755 L520,790 L550,835 L510,875 L440,860 Z" fill="#e8857f" stroke="#e8857f" stroke-width="20" stroke-linejoin="round"/><circle cx="490" cy="820" r="21" fill="#b53a45"/><path d="M325,850 L345,800 L410,870 L430,960 L380,990 L330,960 Z" fill="#f2c6c0" stroke="#f2c6c0" stroke-width="30" stroke-linejoin="round"/><path d="M325,850 L345,800 L410,870 L430,960 L380,990 L330,960 Z" fill="#e8857f" stroke="#e8857f" stroke-width="20" stroke-linejoin="round"/><circle cx="380" cy="905" r="21" fill="#b53a45"/><path d="M415,985 L470,940 L540,920 L555,960 L510,1010 L440,1015 Z" fill="#f2c6c0" stroke="#f2c6c0" stroke-width="30" stroke-linejoin="round"/><path d="M415,985 L470,940 L540,920 L555,960 L510,1010 L440,1015 Z" fill="#e8857f" stroke="#e8857f" stroke-width="20" stroke-linejoin="round"/><circle cx="505" cy="965" r="21" fill="#b53a45"/><path d="M1015,830 L1040,785 L1160,780 L1180,830 L1130,865 L1040,865 Z" fill="#f2c6c0" stroke="#f2c6c0" stroke-width="30" stroke-linejoin="round"/><path d="M1015,830 L1040,785 L1160,780 L1180,830 L1130,865 L1040,865 Z" fill="#e8857f" stroke="#e8857f" stroke-width="20" stroke-linejoin="round"/><circle cx="1100" cy="812" r="21" fill="#b53a45"/><path d="M550,1090 L620,1030 L700,1010 L760,1080 L785,1180 L660,1195 L570,1160 Z" fill="#f2c6c0" stroke="#f2c6c0" stroke-width="30" stroke-linejoin="round"/><path d="M550,1090 L620,1030 L700,1010 L760,1080 L785,1180 L660,1195 L570,1160 Z" fill="#e8857f" stroke="#e8857f" stroke-width="20" stroke-linejoin="round"/><circle cx="642" cy="1125" r="21" fill="#b53a45"/><path d="M850,1030 L900,995 L960,990 L1010,1100 L990,1160 L910,1160 L855,1100 Z" fill="#f2c6c0" stroke="#f2c6c0" stroke-width="30" stroke-linejoin="round"/><path d="M850,1030 L900,995 L960,990 L1010,1100 L990,1160 L910,1160 L855,1100 Z" fill="#e8857f" stroke="#e8857f" stroke-width="20" stroke-linejoin="round"/><circle cx="925" cy="1078" r="21" fill="#b53a45"/><path d="M995,970 L1010,940 L1100,975 L1140,1030 L1100,1100 L1050,1105 L1000,1040 Z" fill="#f2c6c0" stroke="#f2c6c0" stroke-width="30" stroke-linejoin="round"/><path d="M995,970 L1010,940 L1100,975 L1140,1030 L1100,1100 L1050,1105 L1000,1040 Z" fill="#e8857f" stroke="#e8857f" stroke-width="20" stroke-linejoin="round"/><circle cx="1068" cy="1035" r="21" fill="#b53a45"/><g transform="translate(650,410) rotate(70)" opacity="0.75"><path d="M-65,0 Q0,-11 65,0 Q0,11 -65,0 Z" fill="#a88470"/><path d="M-35,-20 L35,20 M-35,20 L35,-20" stroke="#a88470" stroke-width="6" stroke-linecap="round"/></g><g transform="translate(880,290) rotate(20)" opacity="0.75"><path d="M-65,0 Q0,-11 65,0 Q0,11 -65,0 Z" fill="#a88470"/><path d="M-35,-20 L35,20 M-35,20 L35,-20" stroke="#a88470" stroke-width="6" stroke-linecap="round"/></g><g transform="translate(670,650) rotate(40)" opacity="0.75"><path d="M-65,0 Q0,-11 65,0 Q0,11 -65,0 Z" fill="#a88470"/><path d="M-35,-20 L35,20 M-35,20 L35,-20" stroke="#a88470" stroke-width="6" stroke-linecap="round"/></g><g transform="translate(430,730) rotate(10)" opacity="0.75"><path d="M-65,0 Q0,-11 65,0 Q0,11 -65,0 Z" fill="#a88470"/><path d="M-35,-20 L35,20 M-35,20 L35,-20" stroke="#a88470" stroke-width="6" stroke-linecap="round"/></g><g transform="translate(625,890) rotate(70)" opacity="0.75"><path d="M-65,0 Q0,-11 65,0 Q0,11 -65,0 Z" fill="#a88470"/><path d="M-35,-20 L35,20 M-35,20 L35,-20" stroke="#a88470" stroke-width="6" stroke-linecap="round"/></g><g transform="translate(1100,600) rotate(10)" opacity="0.75"><path d="M-65,0 Q0,-11 65,0 Q0,11 -65,0 Z" fill="#a88470"/><path d="M-35,-20 L35,20 M-35,20 L35,-20" stroke="#a88470" stroke-width="6" stroke-linecap="round"/></g><g transform="translate(1140,910) rotate(10)" opacity="0.75"><path d="M-65,0 Q0,-11 65,0 Q0,11 -65,0 Z" fill="#a88470"/><path d="M-35,-20 L35,20 M-35,20 L35,-20" stroke="#a88470" stroke-width="6" stroke-linecap="round"/></g><g transform="translate(340,990) rotate(25)" opacity="0.75"><path d="M-65,0 Q0,-11 65,0 Q0,11 -65,0 Z" fill="#a88470"/><path d="M-35,-20 L35,20 M-35,20 L35,-20" stroke="#a88470" stroke-width="6" stroke-linecap="round"/></g><g transform="translate(795,1060) rotate(80)" opacity="0.75"><path d="M-65,0 Q0,-11 65,0 Q0,11 -65,0 Z" fill="#a88470"/><path d="M-35,-20 L35,20 M-35,20 L35,-20" stroke="#a88470" stroke-width="6" stroke-linecap="round"/></g><g transform="translate(840,720) rotate(45)" opacity="0.75"><path d="M-65,0 Q0,-11 65,0 Q0,11 -65,0 Z" fill="#a88470"/><path d="M-35,-20 L35,20 M-35,20 L35,-20" stroke="#a88470" stroke-width="6" stroke-linecap="round"/></g><g transform="translate(1200,800) rotate(-80)" opacity="0.75"><path d="M-65,0 Q0,-11 65,0 Q0,11 -65,0 Z" fill="#a88470"/><path d="M-35,-20 L35,20 M-35,20 L35,-20" stroke="#a88470" stroke-width="6" stroke-linecap="round"/></g></g><circle cx="1263.1" cy="1238.4" r="111.6" fill="#ffffff"/><g transform="translate(1140,1110) scale(0.168464)" clip-path="url(#ct)">
<rect x="0" y="578" width="1484" height="384" fill="#fbe6e5"/>
<rect x="0" y="465" width="1484" height="76" fill="#d97a7b"/>
<rect x="0" y="541" width="1484" height="38" fill="#f6c6bf"/>
<rect x="0" y="960" width="1484" height="36" fill="#f6c6bf"/>
<rect x="0" y="996" width="1484" height="80" fill="#d97a7b"/>
<g fill="#f1b3b7" stroke="#e6a0a6" stroke-width="6">
<circle cx="255" cy="690" r="58"/><circle cx="485" cy="722" r="58"/><circle cx="955" cy="672" r="58"/>
<circle cx="1320" cy="672" r="55"/><circle cx="1230" cy="852" r="55"/><circle cx="110" cy="805" r="50"/>
<ellipse cx="720" cy="650" rx="66" ry="30" transform="rotate(25 720 650)"/>
<ellipse cx="295" cy="855" rx="66" ry="28" transform="rotate(-42 295 855)"/>
<ellipse cx="1135" cy="725" rx="72" ry="28" transform="rotate(-62 1135 725)"/>
</g>
<g fill="#b52c40"><circle cx="455" cy="935" r="33"/><circle cx="500" cy="905" r="37"/><circle cx="545" cy="875" r="39"/><circle cx="595" cy="845" r="41"/><circle cx="640" cy="815" r="41"/><circle cx="690" cy="795" r="41"/><circle cx="745" cy="780" r="41"/><circle cx="800" cy="772" r="41"/><circle cx="855" cy="778" r="41"/><circle cx="905" cy="790" r="39"/><circle cx="950" cy="810" r="39"/><circle cx="990" cy="840" r="37"/><circle cx="1015" cy="880" r="35"/><circle cx="1025" cy="925" r="35"/><circle cx="1010" cy="955" r="29"/><rect x="425" y="930" width="600" height="46" rx="10"/></g><g fill="#d33a4f"><circle cx="455" cy="935" r="28"/><circle cx="500" cy="905" r="32"/><circle cx="545" cy="875" r="34"/><circle cx="595" cy="845" r="36"/><circle cx="640" cy="815" r="36"/><circle cx="690" cy="795" r="36"/><circle cx="745" cy="780" r="36"/><circle cx="800" cy="772" r="36"/><circle cx="855" cy="778" r="36"/><circle cx="905" cy="790" r="34"/><circle cx="950" cy="810" r="34"/><circle cx="990" cy="840" r="32"/><circle cx="1015" cy="880" r="30"/><circle cx="1025" cy="925" r="30"/><circle cx="1010" cy="955" r="24"/></g><path d="M425,960 C440,920 520,880 600,850 C680,815 760,805 820,805 C900,810 970,840 1000,890 C1025,930 1020,960 1005,972 C900,978 700,980 560,976 C480,974 430,972 425,960 Z" fill="#d33a4f"/><g fill="#e0596b" opacity="0.8"><ellipse cx="520" cy="930" rx="22" ry="14" transform="rotate(-20 520 930)"/><ellipse cx="600" cy="900" rx="22" ry="14" transform="rotate(-20 600 900)"/><ellipse cx="680" cy="870" rx="22" ry="14" transform="rotate(-20 680 870)"/><ellipse cx="760" cy="840" rx="22" ry="14" transform="rotate(-20 760 840)"/><ellipse cx="840" cy="850" rx="22" ry="14" transform="rotate(-20 840 850)"/><ellipse cx="920" cy="870" rx="22" ry="14" transform="rotate(-20 920 870)"/><ellipse cx="980" cy="920" rx="22" ry="14" transform="rotate(-20 980 920)"/><ellipse cx="700" cy="930" rx="22" ry="14" transform="rotate(-20 700 930)"/><ellipse cx="800" cy="920" rx="22" ry="14" transform="rotate(-20 800 920)"/><ellipse cx="880" cy="940" rx="22" ry="14" transform="rotate(-20 880 940)"/><ellipse cx="620" cy="950" rx="22" ry="14" transform="rotate(-20 620 950)"/><ellipse cx="560" cy="900" rx="22" ry="14" transform="rotate(-20 560 900)"/><ellipse cx="740" cy="890" rx="22" ry="14" transform="rotate(-20 740 890)"/><ellipse cx="900" cy="820" rx="22" ry="14" transform="rotate(-20 900 820)"/><ellipse cx="820" cy="800" rx="22" ry="14" transform="rotate(-20 820 800)"/><ellipse cx="660" cy="820" rx="22" ry="14" transform="rotate(-20 660 820)"/></g><g fill="none" stroke="#b8304a" stroke-width="5" opacity="0.7"><path d="M535,940 Q560,922 585,940"/><path d="M625,905 Q650,887 675,905"/><path d="M705,870 Q730,852 755,870"/><path d="M785,880 Q810,862 835,880"/><path d="M865,900 Q890,882 915,900"/><path d="M935,950 Q960,932 985,950"/><path d="M745,950 Q770,932 795,950"/><path d="M835,830 Q860,812 885,830"/><path d="M675,820 Q700,802 725,820"/></g>
</g><circle cx="1263.1" cy="1238.4" r="111.0" fill="none" stroke="#6a1a1e" stroke-width="3.0"/>
<g class="tx">
<text x="1140.6" y="75.2" font-size="32" font-weight="bold" textLength="318.9" lengthAdjust="spacingAndGlyphs" xml:space="preserve">Growth factor signaling</text>
<text x="909.6" y="110.7" font-size="32" textLength="781.0" lengthAdjust="spacingAndGlyphs" xml:space="preserve">(VEGF, EGF, PDGF),CircTTN,CircNlgn,CircPan3 ,Circ-LTBP1,</text>
<text x="1044.2" y="144.3" font-size="32" textLength="510.1" lengthAdjust="spacingAndGlyphs" xml:space="preserve">circ_0050486,circRNA CDR, circHIPK3</text>
<text x="408.2" y="289.4" font-size="34" font-weight="bold" textLength="181.6" lengthAdjust="spacingAndGlyphs" xml:space="preserve">Contractility</text>
<text x="408.1" y="326.4" font-size="34" textLength="244.4" lengthAdjust="spacingAndGlyphs" xml:space="preserve">(eNOS signaling,</text>
<text x="407.9" y="364.6" font-size="34" textLength="117.8" lengthAdjust="spacingAndGlyphs" xml:space="preserve">calcium</text>
<text x="408.0" y="401.3" font-size="34" textLength="262.0" lengthAdjust="spacingAndGlyphs" xml:space="preserve">cycling):CircITCH,</text>
<text x="408.3" y="438.5" font-size="34" textLength="182.3" lengthAdjust="spacingAndGlyphs" xml:space="preserve">Circ-Amotl1,</text>
<text x="408.3" y="476.7" font-size="34" textLength="155.6" lengthAdjust="spacingAndGlyphs" xml:space="preserve">CircAKT1 ,</text>
<text x="416.9" y="513.7" font-size="34" textLength="133.4" lengthAdjust="spacingAndGlyphs" xml:space="preserve">CircAKT1</text>
<text x="1862.1" y="119.0" font-size="32" font-weight="bold" textLength="302.3" lengthAdjust="spacingAndGlyphs" xml:space="preserve">Mitochondria function</text>
<text x="1862.2" y="151.8" font-size="32" textLength="301.7" lengthAdjust="spacingAndGlyphs" xml:space="preserve">(fusion-fission cycling,</text>
<text x="1862.9" y="186.9" font-size="32" textLength="330.2" lengthAdjust="spacingAndGlyphs" xml:space="preserve">genomic stability, energy</text>
<text x="1862.1" y="220.9" font-size="32" textLength="146.3" lengthAdjust="spacingAndGlyphs" xml:space="preserve">production</text>
<text x="1862.6" y="255.5" font-size="32" textLength="135.0" lengthAdjust="spacingAndGlyphs" xml:space="preserve">Circ INSR,</text>
<text x="1862.5" y="290.3" font-size="32" textLength="192.4" lengthAdjust="spacingAndGlyphs" xml:space="preserve">CircArhgap12,</text>
<text x="1862.5" y="324.3" font-size="32" textLength="167.5" lengthAdjust="spacingAndGlyphs" xml:space="preserve">Circ-Amotl1,</text>
<text x="1862.6" y="359.5" font-size="32" textLength="130.3" lengthAdjust="spacingAndGlyphs" xml:space="preserve">CircPan3,</text>
<text x="1862.6" y="393.4" font-size="32" textLength="155.1" lengthAdjust="spacingAndGlyphs" xml:space="preserve">CircFOXO3,</text>
<text x="1862.6" y="428.6" font-size="32" textLength="143.0" lengthAdjust="spacingAndGlyphs" xml:space="preserve">Circ-LTBP1</text>
<text x="1862.6" y="543.3" font-size="32" font-weight="bold" textLength="137.0" lengthAdjust="spacingAndGlyphs" xml:space="preserve">Apoptosis</text>
<text x="1861.5" y="577.7" font-size="32" textLength="282.7" lengthAdjust="spacingAndGlyphs" xml:space="preserve">(cell functions, death</text>
<text x="1861.2" y="612.2" font-size="32" textLength="194.9" lengthAdjust="spacingAndGlyphs" xml:space="preserve">mechanisms):</text>
<text x="1861.8" y="646.6" font-size="32" textLength="129.3" lengthAdjust="spacingAndGlyphs" xml:space="preserve">Circ-INSR</text>
<text x="1861.8" y="681.1" font-size="32" textLength="121.7" lengthAdjust="spacingAndGlyphs" xml:space="preserve">CircITCH</text>
<text x="1861.7" y="715.5" font-size="32" textLength="112.7" lengthAdjust="spacingAndGlyphs" xml:space="preserve">CircTTN</text>
<text x="1861.7" y="749.9" font-size="32" textLength="117.3" lengthAdjust="spacingAndGlyphs" xml:space="preserve">CircNlgn</text>
<text x="1861.7" y="784.4" font-size="32" textLength="185.1" lengthAdjust="spacingAndGlyphs" xml:space="preserve">CircArhgap12</text>
<text x="1861.7" y="818.8" font-size="32" textLength="156.5" lengthAdjust="spacingAndGlyphs" xml:space="preserve">Circ-Amotl1</text>
<text x="1861.7" y="853.3" font-size="32" textLength="123.0" lengthAdjust="spacingAndGlyphs" xml:space="preserve">CircPan3</text>
<text x="1861.8" y="887.7" font-size="32" textLength="147.1" lengthAdjust="spacingAndGlyphs" xml:space="preserve">CircFOXO3</text>
<text x="1861.8" y="922.1" font-size="32" textLength="136.1" lengthAdjust="spacingAndGlyphs" xml:space="preserve">Circ-SKA3</text>
<text x="1860.9" y="956.6" font-size="32" textLength="251.1" lengthAdjust="spacingAndGlyphs" xml:space="preserve">Hsa_circ_0097435</text>
<text x="1861.2" y="991.0" font-size="32" textLength="267.1" lengthAdjust="spacingAndGlyphs" xml:space="preserve">mmu_circ_0015773</text>
<text x="1861.2" y="1025.5" font-size="32" textLength="267.1" lengthAdjust="spacingAndGlyphs" xml:space="preserve">mmu_circ_0002106</text>
<text x="1861.2" y="1059.9" font-size="32" textLength="267.1" lengthAdjust="spacingAndGlyphs" xml:space="preserve">mmu_circ_0016006</text>
<text x="371.0" y="660.3" font-size="32" font-weight="bold" textLength="242.1" lengthAdjust="spacingAndGlyphs" xml:space="preserve">Electrophysiology</text>
<text x="371.1" y="694.9" font-size="32" textLength="166.5" lengthAdjust="spacingAndGlyphs" xml:space="preserve">(ion channel</text>
<text x="370.8" y="728.8" font-size="32" textLength="273.2" lengthAdjust="spacingAndGlyphs" xml:space="preserve">inhibition): CircNlgn,</text>
<text x="371.4" y="763.4" font-size="32" textLength="153.8" lengthAdjust="spacingAndGlyphs" xml:space="preserve">CircFOXO3,</text>
<text x="371.4" y="798.0" font-size="32" textLength="200.0" lengthAdjust="spacingAndGlyphs" xml:space="preserve">CircRNA HRCR</text>
<text x="412.3" y="1179.5" font-size="32" font-weight="bold" textLength="306.3" lengthAdjust="spacingAndGlyphs" xml:space="preserve">Ion channel trafficking</text>
<text x="412.5" y="1213.2" font-size="32" textLength="312.4" lengthAdjust="spacingAndGlyphs" xml:space="preserve">(ion channel trafficking-</text>
<text x="412.2" y="1247.7" font-size="32" textLength="229.8" lengthAdjust="spacingAndGlyphs" xml:space="preserve">related proteins):</text>
<text x="412.8" y="1280.6" font-size="32" textLength="155.4" lengthAdjust="spacingAndGlyphs" xml:space="preserve">Circ-Amotl1</text>
<text x="412.8" y="1315.1" font-size="32" textLength="167.4" lengthAdjust="spacingAndGlyphs" xml:space="preserve">Circ-SHPRH,</text>
<text x="412.8" y="1349.6" font-size="32" textLength="318.3" lengthAdjust="spacingAndGlyphs" xml:space="preserve">Circ-CACNA1C CircRNA</text>
<text x="411.9" y="1384.2" font-size="32" textLength="85.3" lengthAdjust="spacingAndGlyphs" xml:space="preserve">HIPK3</text>
<text x="1732.3" y="1207.8" font-size="32" font-weight="bold" textLength="109.4" lengthAdjust="spacingAndGlyphs" xml:space="preserve">Fibrosis</text>
<text x="1732.4" y="1242.2" font-size="32" textLength="282.2" lengthAdjust="spacingAndGlyphs" xml:space="preserve">(collagen deposition,</text>
<text x="1733.8" y="1277.0" font-size="32" textLength="284.9" lengthAdjust="spacingAndGlyphs" xml:space="preserve">fibroblast activation):</text>
<text x="1732.7" y="1311.8" font-size="32" textLength="377.9" lengthAdjust="spacingAndGlyphs" xml:space="preserve">CircLTBP1 , CircRNA_01056,</text>
<text x="1732.7" y="1345.7" font-size="32" textLength="229.6" lengthAdjust="spacingAndGlyphs" xml:space="preserve">CircRNA_000203</text>
<text x="1195.3" y="1377.6" font-size="32" font-weight="bold" textLength="162.9" lengthAdjust="spacingAndGlyphs" xml:space="preserve">Thrombosis</text>
<text x="1083.5" y="1411.4" font-size="32" textLength="385.3" lengthAdjust="spacingAndGlyphs" xml:space="preserve">(coagulation process):CircLT</text>
<text x="982.1" y="1445.9" font-size="32" textLength="575.0" lengthAdjust="spacingAndGlyphs" xml:space="preserve">BP1,CircRNA_0044073 ,CircRNA_0005015,</text>
<text x="1026.1" y="1479.7" font-size="32" textLength="500.4" lengthAdjust="spacingAndGlyphs" xml:space="preserve">CircRNA DLGAP4,m,CircRNA ZNF609</text>
</g>
</svg>
</body></html>
